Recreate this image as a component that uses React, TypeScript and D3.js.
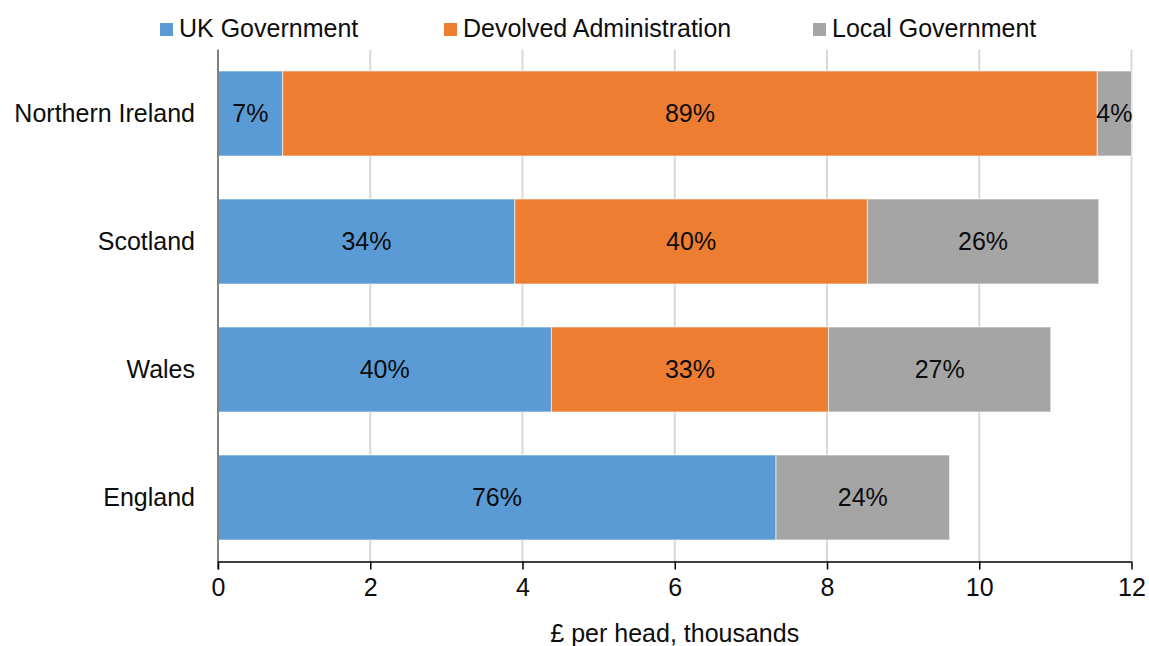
import * as d3 from "d3";
import { useEffect, useRef } from "react";

const regions = ["Northern Ireland", "Scotland", "Wales", "England"];
const seriesNames = ["UK Government", "Devolved Administration", "Local Government"];
const seriesColors = ["#5B9BD5", "#ED7D31", "#A5A5A5"];

// £ thousands per head
const ukGov = [0.85, 3.9, 4.38, 7.33];
const devolved = [10.7, 4.63, 3.64, 0];
const localGov = [0.45, 3.04, 2.92, 2.28];

const xTicks = [0, 2, 4, 6, 8, 10, 12];

const W = 1149;
const H = 646;

const App = () => {
  const chartRef = useRef(null);

  useEffect(() => {
    const svg = d3.select(chartRef.current);
    svg.selectAll("*").remove();

    const margin = { top: 49.5, bottom: 84.5, left: 218, right: 17.5 };
    const font = "'Liberation Sans', Arial, sans-serif";
    const fs = "25px";

    const rows = regions.map((r, i) => ({
      region: r,
      values: [ukGov[i], devolved[i], localGov[i]],
    }));

    const scaleX = d3.scaleLinear().domain([0, 12]).range([margin.left, W - margin.right]);
    const scaleY = d3
      .scaleBand()
      .domain(regions)
      .range([margin.top, H - margin.bottom])
      .paddingInner(0.336)
      .paddingOuter(0.168);

    const bottom = H - margin.bottom;

    // gridlines
    svg.append("g")
      .selectAll("line")
      .data(xTicks.filter(t => t > 0))
      .enter()
      .append("line")
      .attr("x1", d => scaleX(d))
      .attr("x2", d => scaleX(d))
      .attr("y1", margin.top)
      .attr("y2", bottom)
      .style("stroke", "#d9d9d9")
      .style("stroke-width", 2);

    // bars
    rows.forEach(row => {
      const total = d3.sum(row.values);
      let acc = 0;
      row.values.forEach((v, k) => {
        if (v <= 0) return;
        const x0 = acc;
        acc += v;
        svg.append("rect")
          .attr("x", scaleX(x0))
          .attr("y", scaleY(row.region))
          .attr("width", scaleX(acc) - scaleX(x0))
          .attr("height", scaleY.bandwidth())
          .style("fill", seriesColors[k])
          .style("stroke", "#ffffff")
          .style("stroke-opacity", 0.6)
          .style("stroke-width", 1);
        svg.append("text")
          .attr("x", (scaleX(x0) + scaleX(acc)) / 2)
          .attr("y", scaleY(row.region) + scaleY.bandwidth() / 2)
          .attr("dy", "0.35em")
          .attr("text-anchor", "middle")
          .style("font-family", font)
          .style("font-size", fs)
          .style("fill", "#0d0d0d")
          .text(Math.round((v / total) * 100) + "%");
      });
    });

    // y axis line
    svg.append("line")
      .attr("x1", margin.left)
      .attr("x2", margin.left)
      .attr("y1", margin.top)
      .attr("y2", bottom + 8)
      .style("stroke", "#808080")
      .style("stroke-width", 2);

    // y labels
    svg.append("g")
      .selectAll("text")
      .data(regions)
      .enter()
      .append("text")
      .attr("x", 195)
      .attr("y", d => scaleY(d) + scaleY.bandwidth() / 2)
      .attr("dy", "0.35em")
      .attr("text-anchor", "end")
      .style("font-family", font)
      .style("font-size", fs)
      .style("fill", "#0d0d0d")
      .text(d => d);

    // x axis
    const xAxis = d3.axisBottom(scaleX).tickValues(xTicks).tickSize(8).tickPadding(9);
    const gx = svg.append("g")
      .attr("transform", `translate(0, ${bottom})`)
      .call(xAxis);
    gx.select(".domain").attr("d", `M${margin.left},0.5H${W - margin.right}`).style("stroke", "#000").style("stroke-width", 1.5);
    gx.selectAll(".tick line").style("stroke", "#000").style("stroke-width", 1.5);
    gx.selectAll(".tick text")
      .style("font-family", font)
      .style("font-size", fs)
      .style("fill", "#0d0d0d");

    svg.append("text")
      .attr("x", (scaleX(0) + scaleX(12)) / 2)
      .attr("y", 642)
      .attr("text-anchor", "middle")
      .style("font-family", font)
      .style("font-size", fs)
      .style("fill", "#0d0d0d")
      .text("£ per head, thousands");

    // legend
    const legendX = [160, 444, 813];
    const lg = svg.append("g")
      .selectAll("g")
      .data(seriesNames)
      .enter()
      .append("g")
      .attr("transform", (d, i) => `translate(${legendX[i]}, 23)`);
    lg.append("rect")
      .attr("width", 13)
      .attr("height", 13)
      .style("fill", (d, i) => seriesColors[i]);
    lg.append("text")
      .attr("x", 19)
      .attr("y", 14)
      .style("font-family", font)
      .style("font-size", fs)
      .style("fill", "#0d0d0d")
      .text(d => d);
  }, []);

  return (
    <svg
      ref={chartRef}
      width={W}
      height={H}
      style={{ position: "absolute", left: 0, top: 0, background: "#fff" }}
    ></svg>
  );
};

export default App;
